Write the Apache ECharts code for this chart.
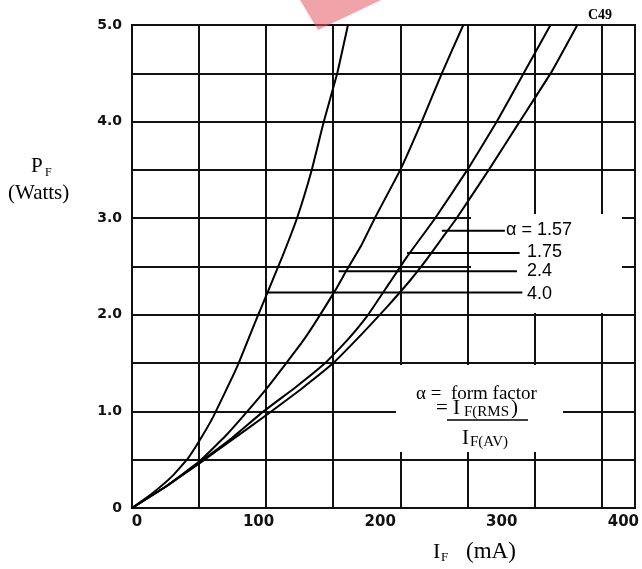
<!DOCTYPE html>
<html>
<head>
<meta charset="utf-8">
<script src="https://cdn.jsdelivr.net/npm/echarts@6/dist/echarts.min.js"></script>
<style>html,body{margin:0;padding:0;background:#fff;}#c{width:642px;height:569px;}</style>
</head>
<body>
<div id="c"></div>
<script>
// Forward current I_F (mA) and power P_F (W)
const alpha157_I = [0, 25, 50, 75, 101, 126, 150, 172, 190, 207, 219, 231, 242, 266, 289, 313, 332];
const alpha157_P = [0, 0.22, 0.46, 0.71, 0.97, 1.23, 1.5, 1.81, 2.08, 2.35, 2.56, 2.79, 3.0, 3.5, 4.0, 4.52, 5.0];

const alpha175_I = [0, 25, 50, 75, 98, 122, 144, 160, 176, 192, 205, 226, 250, 272, 292, 312];
const alpha175_P = [0, 0.22, 0.47, 0.73, 1.0, 1.25, 1.5, 1.73, 2.0, 2.33, 2.6, 3.0, 3.5, 4.0, 4.5, 5.0];

const alpha24_I = [0, 25, 50, 70, 86, 100, 115, 128, 138, 151, 160, 171, 181, 200, 216, 231, 247];
const alpha24_P = [0, 0.22, 0.48, 0.75, 1.0, 1.23, 1.5, 1.74, 1.95, 2.24, 2.46, 2.72, 3.0, 3.5, 4.0, 4.5, 5.0];

const alpha40_I = [0, 15, 30, 42, 50, 60, 78, 92, 101, 112, 123, 134, 143, 153, 161];
const alpha40_P = [0, 0.15, 0.33, 0.52, 0.69, 0.93, 1.45, 1.93, 2.23, 2.6, 3.0, 3.5, 4.0, 4.5, 5.0];

// Leader lines from each curve to its label: [startI, endI, P]
const leader157 = [231, 278, 2.87];
const leader175 = [205, 289, 2.64];
const leader24  = [154, 287, 2.45];
const leader40  = [101, 291, 2.23];

const labels = ['\u03b1 = 1.57', '1.75', '2.4', '4.0'];
const xTickLabels = ['0', '100', '200', '300', '400'];
const yTickLabels = ['0', '1.0', '2.0', '3.0', '4.0', '5.0'];

function pairs(xs, ys) { return xs.map((x, i) => [x, ys[i]]); }
function leader(l) { return [[l[0], l[2]], [l[1], l[2]]]; }

function curve(name, data) {
  return { name, type: 'line', xAxisIndex: 0, yAxisIndex: 0, data, showSymbol: false,
    smooth: 0.12, lineStyle: { color: '#000', width: 2 }, z: 3, silent: true };
}
function lead(name, data) {
  return { name, type: 'line', xAxisIndex: 0, yAxisIndex: 0, data, showSymbol: false,
    lineStyle: { color: '#000', width: 2 }, z: 3, silent: true };
}

const sans = 'Liberation Sans';
const serif = 'Liberation Serif';

const chart = echarts.init(document.getElementById('c'), null, { renderer: 'canvas' });
chart.setOption({
  animation: false,
  backgroundColor: '#fff',
  grid: [
    { left: 132, right: 7, top: 25, bottom: 61, show: true, borderColor: '#000', borderWidth: 2, backgroundColor: 'transparent' },
    { left: 137, right: 15, top: 25, bottom: 61, show: false }
  ],
  xAxis: [
    { gridIndex: 0, type: 'value', min: 0, max: 375, interval: 50,
      axisLine: { show: false }, axisTick: { show: false }, axisLabel: { show: false },
      splitLine: { show: true, lineStyle: { color: '#111', width: 2 } } },
    { gridIndex: 1, type: 'value', min: 0, max: 400, interval: 100,
      axisLine: { show: false }, axisTick: { show: false }, splitLine: { show: false },
      axisLabel: { show: true, margin: 7, color: '#111', fontFamily: 'DejaVu Sans', fontWeight: 'bold', fontSize: 15,
        formatter: v => xTickLabels[Math.round(v / 100)] || '' } }
  ],
  yAxis: [
    { gridIndex: 0, type: 'value', min: 0, max: 5, interval: 0.5,
      axisLine: { show: false }, axisTick: { show: false },
      splitLine: { show: true, lineStyle: { color: '#111', width: 2 } },
      axisLabel: { show: true, margin: 10, color: '#111', fontFamily: 'DejaVu Sans', fontWeight: 'bold', fontSize: 14,
        formatter: v => (Math.abs(v - Math.round(v)) < 1e-9 ? yTickLabels[Math.round(v)] : '') } },
    { gridIndex: 1, type: 'value', min: 0, max: 5, show: false }
  ],
  series: [
    curve('\u03b1=1.57', pairs(alpha157_I, alpha157_P)),
    curve('\u03b1=1.75', pairs(alpha175_I, alpha175_P)),
    curve('\u03b1=2.4', pairs(alpha24_I, alpha24_P)),
    curve('\u03b1=4.0', pairs(alpha40_I, alpha40_P)),
    lead('l157', leader(leader157)),
    lead('l175', leader(leader175)),
    lead('l24', leader(leader24)),
    lead('l40', leader(leader40))
  ],
  graphic: { elements: [
    // white label areas interrupting the grid
    { type: 'rect', z: 1, shape: { x: 471, y: 214, width: 151, height: 99 }, style: { fill: '#fff' }, silent: true },
    { type: 'rect', z: 1, shape: { x: 396, y: 365, width: 167, height: 87 }, style: { fill: '#fff' }, silent: true },
    // curve labels
    { type: 'text', z: 5, left: 506, top: 221, style: { text: labels[0], font: '18px "' + sans + '"', fill: '#000' } },
    { type: 'text', z: 5, left: 527, top: 243, style: { text: labels[1], font: '18px "' + sans + '"', fill: '#000' } },
    { type: 'text', z: 5, left: 527, top: 262, style: { text: labels[2], font: '18px "' + sans + '"', fill: '#000' } },
    { type: 'text', z: 5, left: 527, top: 285, style: { text: labels[3], font: '18px "' + sans + '"', fill: '#000' } },
    // form factor note
    { type: 'text', z: 5, left: 416, top: 385, style: { text: '\u03b1 =  form factor', font: '19px "' + serif + '"', fill: '#000' } },
    { type: 'text', z: 5, left: 436, top: 398, style: { text: '= I', font: '21px "' + serif + '"', fill: '#000' } },
    { type: 'text', z: 5, left: 464, top: 405, style: { text: 'F(RMS', font: '15px "' + serif + '"', fill: '#000' } },
    { type: 'text', z: 5, left: 511, top: 398, style: { text: ')', font: '21px "' + serif + '"', fill: '#000' } },
    { type: 'line', z: 5, shape: { x1: 447, y1: 420, x2: 528, y2: 420 }, style: { stroke: '#000', lineWidth: 1.5 } },
    { type: 'text', z: 5, left: 462, top: 428, style: { text: 'I', font: '21px "' + serif + '"', fill: '#000' } },
    { type: 'text', z: 5, left: 470, top: 435, style: { text: 'F(AV)', font: '15px "' + serif + '"', fill: '#000' } },
    // y axis name
    { type: 'text', z: 5, left: 31, top: 156, style: { text: 'P', font: '21px "' + serif + '"', fill: '#000' } },
    { type: 'text', z: 5, left: 45, top: 167, style: { text: 'F', font: '12px "' + serif + '"', fill: '#000' } },
    { type: 'text', z: 5, left: 8, top: 183, style: { text: '(Watts)', font: '21px "' + serif + '"', fill: '#000' } },
    // x axis name
    { type: 'text', z: 5, left: 433, top: 541, style: { text: 'I', font: '22px "' + serif + '"', fill: '#000' } },
    { type: 'text', z: 5, left: 441, top: 551, style: { text: 'F', font: '13px "' + serif + '"', fill: '#000' } },
    { type: 'text', z: 5, left: 466, top: 540, style: { text: '(mA)', font: '23px "' + serif + '"', fill: '#000' } },
    // figure code
    { type: 'text', z: 5, left: 588, top: 8, style: { text: 'C49', font: 'bold 14px "' + serif + '"', fill: '#000' } },
    // pink mark at top
    { type: 'polygon', z: 6, shape: { points: [[300, 0], [381, 0], [318, 30]] }, style: { fill: 'rgba(228,90,100,0.55)' }, silent: true }
  ] }
});
</script>
</body>
</html>
